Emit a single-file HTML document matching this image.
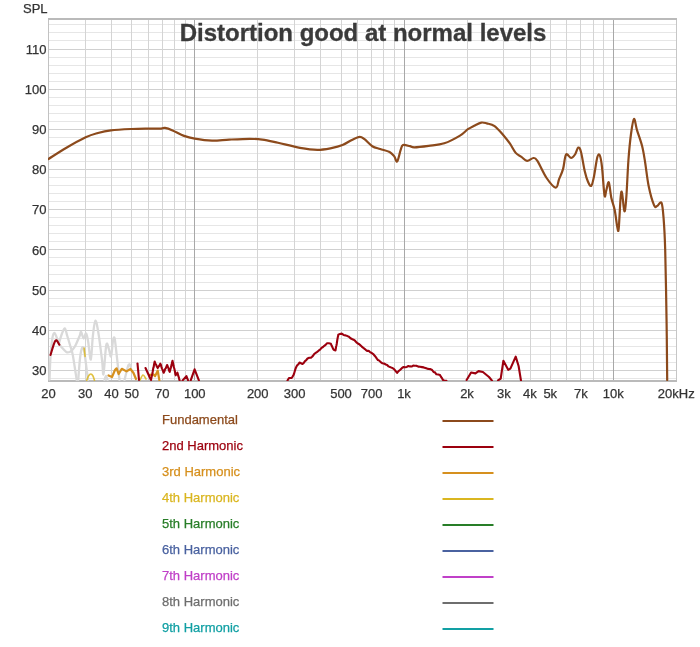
<!DOCTYPE html>
<html><head><meta charset="utf-8"><style>
html,body{margin:0;padding:0;background:#fff;width:700px;height:647px;overflow:hidden;}
svg{display:block;will-change:transform;}
text{font-family:"Liberation Sans", sans-serif;}
</style></head><body>
<svg width="700" height="647" viewBox="0 0 700 647">
<rect width="700" height="647" fill="#fff"/>
<rect x="49" y="24" width="627" height="1" fill="#e6e6e6"/>
<rect x="49" y="32" width="627" height="1" fill="#e6e6e6"/>
<rect x="49" y="40" width="627" height="1" fill="#e6e6e6"/>
<rect x="49" y="49" width="627" height="1" fill="#d0d0d0"/>
<rect x="49" y="57" width="627" height="1" fill="#e6e6e6"/>
<rect x="49" y="65" width="627" height="1" fill="#e6e6e6"/>
<rect x="49" y="73" width="627" height="1" fill="#e6e6e6"/>
<rect x="49" y="81" width="627" height="1" fill="#e6e6e6"/>
<rect x="49" y="89" width="627" height="1" fill="#d0d0d0"/>
<rect x="49" y="97" width="627" height="1" fill="#e6e6e6"/>
<rect x="49" y="105" width="627" height="1" fill="#e6e6e6"/>
<rect x="49" y="113" width="627" height="1" fill="#e6e6e6"/>
<rect x="49" y="121" width="627" height="1" fill="#e6e6e6"/>
<rect x="49" y="129" width="627" height="1" fill="#d0d0d0"/>
<rect x="49" y="137" width="627" height="1" fill="#e6e6e6"/>
<rect x="49" y="145" width="627" height="1" fill="#e6e6e6"/>
<rect x="49" y="153" width="627" height="1" fill="#e6e6e6"/>
<rect x="49" y="161" width="627" height="1" fill="#e6e6e6"/>
<rect x="49" y="169" width="627" height="1" fill="#d0d0d0"/>
<rect x="49" y="177" width="627" height="1" fill="#e6e6e6"/>
<rect x="49" y="185" width="627" height="1" fill="#e6e6e6"/>
<rect x="49" y="193" width="627" height="1" fill="#e6e6e6"/>
<rect x="49" y="201" width="627" height="1" fill="#e6e6e6"/>
<rect x="49" y="209" width="627" height="1" fill="#d0d0d0"/>
<rect x="49" y="217" width="627" height="1" fill="#e6e6e6"/>
<rect x="49" y="225" width="627" height="1" fill="#e6e6e6"/>
<rect x="49" y="233" width="627" height="1" fill="#e6e6e6"/>
<rect x="49" y="241" width="627" height="1" fill="#e6e6e6"/>
<rect x="49" y="249" width="627" height="1" fill="#d0d0d0"/>
<rect x="49" y="257" width="627" height="1" fill="#e6e6e6"/>
<rect x="49" y="265" width="627" height="1" fill="#e6e6e6"/>
<rect x="49" y="274" width="627" height="1" fill="#e6e6e6"/>
<rect x="49" y="282" width="627" height="1" fill="#e6e6e6"/>
<rect x="49" y="290" width="627" height="1" fill="#d0d0d0"/>
<rect x="49" y="298" width="627" height="1" fill="#e6e6e6"/>
<rect x="49" y="306" width="627" height="1" fill="#e6e6e6"/>
<rect x="49" y="314" width="627" height="1" fill="#e6e6e6"/>
<rect x="49" y="322" width="627" height="1" fill="#e6e6e6"/>
<rect x="49" y="330" width="627" height="1" fill="#d0d0d0"/>
<rect x="49" y="338" width="627" height="1" fill="#e6e6e6"/>
<rect x="49" y="346" width="627" height="1" fill="#e6e6e6"/>
<rect x="49" y="354" width="627" height="1" fill="#e6e6e6"/>
<rect x="49" y="362" width="627" height="1" fill="#e6e6e6"/>
<rect x="49" y="370" width="627" height="1" fill="#d0d0d0"/>
<rect x="49" y="378" width="627" height="1" fill="#e6e6e6"/>
<rect x="85" y="20" width="1" height="360" fill="#d4d4d4"/>
<rect x="111" y="20" width="1" height="360" fill="#d4d4d4"/>
<rect x="131" y="20" width="1" height="360" fill="#d4d4d4"/>
<rect x="148" y="20" width="1" height="360" fill="#d4d4d4"/>
<rect x="162" y="20" width="1" height="360" fill="#d4d4d4"/>
<rect x="174" y="20" width="1" height="360" fill="#d4d4d4"/>
<rect x="185" y="20" width="1" height="360" fill="#d4d4d4"/>
<rect x="194" y="20" width="1" height="360" fill="#a8a8a8"/>
<rect x="257" y="20" width="1" height="360" fill="#d4d4d4"/>
<rect x="294" y="20" width="1" height="360" fill="#d4d4d4"/>
<rect x="320" y="20" width="1" height="360" fill="#d4d4d4"/>
<rect x="341" y="20" width="1" height="360" fill="#d4d4d4"/>
<rect x="357" y="20" width="1" height="360" fill="#d4d4d4"/>
<rect x="371" y="20" width="1" height="360" fill="#d4d4d4"/>
<rect x="383" y="20" width="1" height="360" fill="#d4d4d4"/>
<rect x="394" y="20" width="1" height="360" fill="#d4d4d4"/>
<rect x="404" y="20" width="1" height="360" fill="#a8a8a8"/>
<rect x="467" y="20" width="1" height="360" fill="#d4d4d4"/>
<rect x="503" y="20" width="1" height="360" fill="#d4d4d4"/>
<rect x="530" y="20" width="1" height="360" fill="#d4d4d4"/>
<rect x="550" y="20" width="1" height="360" fill="#d4d4d4"/>
<rect x="566" y="20" width="1" height="360" fill="#d4d4d4"/>
<rect x="580" y="20" width="1" height="360" fill="#d4d4d4"/>
<rect x="593" y="20" width="1" height="360" fill="#d4d4d4"/>
<rect x="603" y="20" width="1" height="360" fill="#d4d4d4"/>
<rect x="613" y="20" width="1" height="360" fill="#a8a8a8"/>
<rect x="48" y="18" width="1" height="364" fill="#c2c2c2"/>
<rect x="676" y="18" width="1" height="364" fill="#c6c6c6"/>
<rect x="48" y="18" width="629" height="2" fill="#bababa"/>
<rect x="48" y="380" width="629" height="2" fill="#bababa"/>
<text x="363" y="41" text-anchor="middle" font-family="Liberation Sans" font-weight="bold" font-size="24" fill="#3a3a3a" stroke="#3a3a3a" stroke-width="0.3">Distortion good at normal levels</text>
<defs><clipPath id="pc"><rect x="48" y="18" width="629" height="363"/></clipPath></defs>
<g clip-path="url(#pc)" fill="none" stroke-linejoin="round" stroke-linecap="round">
<path d="M49.50,379.50 C49.67,375.75 50.02,363.92 50.50,357.00 C50.98,350.08 51.75,342.03 52.40,338.00 C53.05,333.97 53.65,332.80 54.40,332.80 C55.15,332.80 56.15,336.22 56.90,338.00 C57.65,339.78 58.08,341.92 58.90,343.50 C59.72,345.08 60.57,346.08 61.80,347.50 C63.03,348.92 64.98,351.25 66.30,352.00 C67.62,352.75 68.63,352.42 69.70,352.00 C70.77,351.58 71.70,350.67 72.70,349.50 C73.70,348.33 74.55,347.25 75.70,345.00 C76.85,342.75 78.70,338.17 79.60,336.00 C80.50,333.83 80.43,331.58 81.10,332.00 C81.77,332.42 82.77,338.25 83.60,338.50 C84.43,338.75 85.33,332.92 86.10,333.50 C86.87,334.08 87.42,337.67 88.20,342.00 C88.98,346.33 90.02,360.55 90.80,359.50 C91.58,358.45 92.13,342.17 92.90,335.70 C93.67,329.23 94.47,321.05 95.40,320.70 C96.33,320.35 97.37,326.80 98.50,333.60 C99.63,340.40 101.37,354.77 102.20,361.50 C103.03,368.23 102.82,376.75 103.50,374.00 C104.18,371.25 105.40,349.15 106.30,345.00 C107.20,340.85 108.12,347.20 108.90,349.10 C109.68,351.00 110.32,357.77 111.00,356.40 C111.68,355.03 112.40,343.92 113.00,340.90 C113.60,337.88 114.00,336.07 114.60,338.30 C115.20,340.53 116.00,349.22 116.60,354.30 C117.20,359.38 117.72,364.52 118.20,368.80 C118.68,373.08 119.28,378.13 119.50,380.00" stroke="#d9d9d9" stroke-width="2.3"/>
<path d="M58.90,343.50 C59.38,341.92 60.82,336.52 61.80,334.00 C62.78,331.48 63.88,328.07 64.80,328.40 C65.72,328.73 66.40,333.12 67.30,336.00 C68.20,338.88 69.30,342.60 70.20,345.70 C71.10,348.80 71.78,349.98 72.70,354.60 C73.62,359.22 75.03,369.17 75.70,373.40 C76.37,377.63 76.53,378.90 76.70,380.00" stroke="#d9d9d9" stroke-width="2.3"/>
<path d="M78.20,380.00 C78.52,376.27 79.45,362.98 80.10,357.60 C80.75,352.22 81.43,348.87 82.10,347.70 C82.77,346.53 83.35,347.05 84.10,350.60 C84.85,354.15 85.95,364.10 86.60,369.00 C87.25,373.90 87.77,378.17 88.00,380.00" stroke="#d9d9d9" stroke-width="2.3"/>
<path d="M104.50,380.00 C104.75,379.33 105.50,376.00 106.00,376.00 C106.50,376.00 107.25,379.33 107.50,380.00" stroke="#d9d9d9" stroke-width="2.3"/>
<path d="M124.50,380.00 C124.83,378.67 125.87,374.42 126.50,372.00 C127.13,369.58 127.75,366.75 128.30,365.50 C128.85,364.25 129.35,364.08 129.80,364.50 C130.25,364.92 130.80,367.42 131.00,368.00" stroke="#d9d9d9" stroke-width="2.3"/>
<path d="M84.1,348.1 L85.1,356.4" stroke="#dab620" stroke-width="1.6" opacity="0.85"/>
<path d="M86.70,380.50 C87.00,379.75 87.82,377.08 88.50,376.00 C89.18,374.92 90.05,374.00 90.80,374.00 C91.55,374.00 92.38,374.92 93.00,376.00 C93.62,377.08 94.25,379.75 94.50,380.50" stroke="#dab620" stroke-width="1.6" opacity="0.85"/>
<path d="M140.00,380.00 C140.50,379.17 142.00,375.17 143.00,375.00 C144.00,374.83 145.50,378.33 146.00,379.00" stroke="#dab620" stroke-width="1.6" opacity="0.85"/>
<path d="M108.50,375.50 L112.00,377.00 L115.10,369.80 L116.60,368.30 L118.70,374.00 L121.80,368.80 L126.50,371.40 L130.50,369.00 L133.50,373.00 L136.00,379.00" stroke="#d6901e" stroke-width="2.2"/>
<path d="M150.00,374.90 L153.40,374.40 L155.10,376.10 L157.70,370.60 L159.40,380.40" stroke="#d6901e" stroke-width="2.2"/>
<path d="M50.50,355.00 C51.32,352.62 53.92,342.42 55.40,340.70 C56.88,338.98 58.73,344.03 59.40,344.70" stroke="#9c000e" stroke-width="2.1"/>
<path d="M137.50,363.50 L139.00,380.00" stroke="#9c000e" stroke-width="2.1"/>
<path d="M145.50,368.00 L150.50,379.00" stroke="#9c000e" stroke-width="2.1"/>
<path d="M151.00,380.00 L151.34,378.04 L151.67,376.70 L152.01,374.84 L152.35,373.42 L152.68,371.77 L153.02,369.49 L153.35,367.76 L153.69,366.99 L154.03,364.68 L154.36,362.98 L154.70,361.60 L155.45,363.75 L156.20,364.77 L156.95,366.77 L157.70,368.00 L158.57,366.54 L159.43,365.29 L160.30,363.70 L160.87,364.82 L161.43,366.85 L162.00,368.60 L162.57,369.73 L163.13,371.47 L163.70,372.70 L164.38,371.35 L165.06,369.14 L165.74,368.36 L166.42,366.64 L167.10,365.00 L167.75,366.51 L168.40,367.93 L169.05,370.58 L169.70,371.90 L170.10,370.27 L170.50,368.94 L170.90,367.52 L171.30,365.74 L171.70,364.36 L172.10,362.18 L172.50,360.70 L172.86,362.65 L173.21,363.88 L173.57,366.05 L173.92,367.61 L174.28,368.37 L174.63,370.03 L174.99,371.74 L175.34,374.19 L175.70,375.30 L177.40,372.70 L177.84,374.17 L178.28,375.92 L178.72,377.10 L179.16,378.87 L179.60,380.40" stroke="#9c000e" stroke-width="2.1"/>
<path d="M182.60,380.40 L186.40,376.10 L188.10,380.40" stroke="#9c000e" stroke-width="2.1"/>
<path d="M190.70,380.40 L194.60,369.30 L198.90,380.40" stroke="#9c000e" stroke-width="2.1"/>
<path d="M287.50,380.50 L289.00,378.00 L291.50,378.00 L292.50,376.82 L293.50,375.00 L294.12,373.48 L294.75,371.23 L295.38,369.11 L296.00,367.50 L297.17,365.28 L298.33,364.35 L299.50,362.50 L301.00,363.22 L302.50,364.00 L303.75,362.91 L305.00,361.11 L306.25,360.17 L307.50,358.50 L309.25,357.80 L311.00,357.60 L312.10,356.73 L313.20,355.45 L314.30,354.00 L315.73,352.81 L317.17,351.84 L318.60,350.70 L320.07,349.67 L321.53,347.90 L323.00,347.00 L324.30,345.83 L325.60,344.87 L326.90,343.30 L328.90,343.29 L330.90,343.80 L331.60,345.61 L332.30,346.95 L333.00,348.60 L333.70,349.70 L335.50,350.40 L335.81,348.47 L336.12,346.46 L336.43,345.50 L336.74,343.76 L337.06,341.62 L337.37,339.49 L337.68,337.86 L337.99,336.59 L338.30,334.70 L340.00,333.92 L341.70,333.60 L343.60,334.93 L345.50,335.36 L347.40,336.10 L348.93,336.74 L350.47,338.20 L352.00,339.00 L353.50,339.70 L355.00,340.70 L356.43,342.38 L357.87,343.55 L359.30,344.30 L360.55,345.39 L361.80,346.61 L363.05,347.74 L364.30,348.60 L365.73,349.81 L367.15,350.87 L368.57,350.71 L370.00,352.10 L371.80,353.05 L373.60,354.30 L374.68,355.84 L375.75,356.93 L376.82,358.67 L377.90,360.00 L379.30,360.60 L380.70,362.10 L382.50,363.27 L384.30,363.60 L385.73,364.50 L387.15,364.93 L388.57,366.40 L390.00,367.10 L391.43,367.63 L392.87,368.23 L394.30,369.30 L395.70,371.08 L397.10,372.90 L398.55,371.05 L400.00,370.00 L401.80,368.18 L403.60,367.00 L405.20,367.25 L406.80,366.92 L408.40,366.01 L410.00,366.40 L411.60,366.53 L413.20,365.52 L414.80,365.69 L416.40,365.70 L418.27,366.61 L420.13,366.77 L422.00,367.10 L423.70,367.39 L425.40,367.97 L427.10,368.60 L428.77,368.94 L430.43,369.12 L432.10,370.00 L433.53,371.98 L434.97,372.38 L436.40,374.30 L438.20,374.57 L440.00,375.00 L441.00,376.94 L442.00,378.22 L443.00,380.00 L444.70,380.88 L446.40,380.70" stroke="#9c000e" stroke-width="2.1"/>
<path d="M466.60,380.00 L471.10,372.50 L475.40,373.40 L478.60,371.10 L482.90,372.00 L489.00,377.00 L492.00,380.60" stroke="#9c000e" stroke-width="2.1"/>
<path d="M498.00,380.40 L500.70,378.60 L503.40,360.70 L508.20,369.80 L510.40,368.60 L515.70,356.60 L518.60,366.00 L521.00,380.60" stroke="#9c000e" stroke-width="2.1"/>
<path d="M48.50,159.00 C51.42,157.17 59.80,151.62 66.00,148.00 C72.20,144.38 80.37,139.80 85.70,137.30 C91.03,134.80 93.80,134.15 98.00,133.00 C102.20,131.85 105.33,131.07 110.90,130.40 C116.47,129.73 125.32,129.30 131.40,129.00 C137.48,128.70 142.47,128.67 147.40,128.60 C152.33,128.53 158.07,128.72 161.00,128.60 C163.93,128.48 163.07,127.60 165.00,127.90 C166.93,128.20 169.43,129.07 172.60,130.40 C175.77,131.73 180.32,134.52 184.00,135.90 C187.68,137.28 190.03,137.90 194.70,138.70 C199.37,139.50 206.23,140.55 212.00,140.70 C217.77,140.85 223.02,139.92 229.30,139.60 C235.58,139.28 244.20,138.80 249.70,138.80 C255.20,138.80 257.58,138.93 262.30,139.60 C267.02,140.27 271.72,141.43 278.00,142.80 C284.28,144.17 293.45,146.63 300.00,147.80 C306.55,148.97 312.07,149.75 317.30,149.80 C322.53,149.85 327.20,148.88 331.40,148.10 C335.60,147.32 339.08,146.47 342.50,145.10 C345.92,143.73 349.03,141.28 351.90,139.90 C354.77,138.52 357.60,136.92 359.70,136.80 C361.80,136.68 362.40,137.63 364.50,139.20 C366.60,140.77 369.68,144.57 372.30,146.20 C374.92,147.83 377.32,148.03 380.20,149.00 C383.08,149.97 387.25,150.77 389.60,152.00 C391.95,153.23 393.03,154.82 394.30,156.40 C395.57,157.98 396.15,162.53 397.20,161.50 C398.25,160.47 399.63,152.95 400.60,150.20 C401.57,147.45 401.43,145.67 403.00,145.00 C404.57,144.33 408.10,145.82 410.00,146.20 C411.90,146.58 411.30,147.37 414.40,147.30 C417.50,147.23 423.62,146.47 428.60,145.80 C433.58,145.13 439.07,145.00 444.30,143.30 C449.53,141.60 456.07,137.95 460.00,135.60 C463.93,133.25 465.53,130.85 467.90,129.20 C470.27,127.55 471.97,126.80 474.20,125.70 C476.43,124.60 479.20,122.98 481.30,122.60 C483.40,122.22 484.58,122.80 486.80,123.40 C489.02,124.00 491.73,124.12 494.60,126.20 C497.47,128.28 501.43,132.98 504.00,135.90 C506.57,138.82 508.05,140.87 510.00,143.70 C511.95,146.53 513.80,150.70 515.70,152.90 C517.60,155.10 519.50,155.57 521.40,156.90 C523.30,158.23 525.10,160.72 527.10,160.90 C529.10,161.08 531.68,158.00 533.40,158.00 C535.12,158.00 535.20,157.57 537.40,160.90 C539.60,164.23 543.55,173.53 546.60,178.00 C549.65,182.47 553.62,187.52 555.70,187.70 C557.78,187.88 557.87,182.23 559.10,179.10 C560.33,175.97 561.95,172.98 563.10,168.90 C564.25,164.82 564.67,156.42 566.00,154.60 C567.33,152.78 569.60,158.02 571.10,158.00 C572.60,157.98 573.82,156.23 575.00,154.50 C576.18,152.77 577.20,148.02 578.20,147.60 C579.20,147.18 579.92,148.12 581.00,152.00 C582.08,155.88 583.53,165.95 584.70,170.90 C585.87,175.85 586.90,179.22 588.00,181.70 C589.10,184.18 590.30,186.68 591.30,185.80 C592.30,184.92 593.00,181.17 594.00,176.40 C595.00,171.63 596.33,160.70 597.30,157.20 C598.27,153.70 599.02,153.77 599.80,155.40 C600.58,157.03 601.22,160.35 602.00,167.00 C602.78,173.65 603.78,191.40 604.50,195.30 C605.22,199.20 605.58,192.57 606.30,190.40 C607.02,188.23 607.97,181.08 608.80,182.30 C609.63,183.52 610.32,193.08 611.30,197.70 C612.28,202.32 613.72,205.22 614.70,210.00 C615.68,214.78 616.53,223.28 617.20,226.40 C617.87,229.52 618.12,233.68 618.70,228.70 C619.28,223.72 620.13,202.42 620.70,196.50 C621.27,190.58 621.48,190.73 622.10,193.20 C622.72,195.67 623.70,210.55 624.40,211.30 C625.10,212.05 625.63,206.17 626.30,197.70 C626.97,189.23 627.62,171.12 628.40,160.50 C629.18,149.88 630.07,140.92 631.00,134.00 C631.93,127.08 633.00,119.65 634.00,119.00 C635.00,118.35 635.65,125.58 637.00,130.10 C638.35,134.62 640.75,140.75 642.10,146.10 C643.45,151.45 644.00,155.50 645.10,162.20 C646.20,168.90 647.20,179.10 648.70,186.30 C650.20,193.50 652.70,202.12 654.10,205.40 C655.50,208.68 655.87,206.43 657.10,206.00 C658.33,205.57 660.42,200.73 661.50,202.80 C662.58,204.87 662.98,210.53 663.60,218.40 C664.22,226.27 664.70,232.47 665.20,250.00 C665.70,267.53 666.27,301.93 666.60,323.60 C666.93,345.27 667.10,370.60 667.20,380.00" stroke="#8c4a1c" stroke-width="2.2"/>
</g>
<g font-family="Liberation Sans" font-size="13" fill="#333" stroke="#333" stroke-width="0.25">
<text x="23"  y="13">SPL</text>
<text x="46.5" y="374.9" text-anchor="end">30</text>
<text x="46.5" y="334.8" text-anchor="end">40</text>
<text x="46.5" y="294.7" text-anchor="end">50</text>
<text x="46.5" y="254.5" text-anchor="end">60</text>
<text x="46.5" y="214.4" text-anchor="end">70</text>
<text x="46.5" y="174.3" text-anchor="end">80</text>
<text x="46.5" y="134.2" text-anchor="end">90</text>
<text x="46.5" y="94.0" text-anchor="end">100</text>
<text x="46.5" y="53.9" text-anchor="end">110</text>
<text x="48.50" y="398" text-anchor="middle">20</text>
<text x="85.35" y="398" text-anchor="middle">30</text>
<text x="111.49" y="398" text-anchor="middle">40</text>
<text x="131.77" y="398" text-anchor="middle">50</text>
<text x="162.35" y="398" text-anchor="middle">70</text>
<text x="194.76" y="398" text-anchor="middle">100</text>
<text x="257.75" y="398" text-anchor="middle">200</text>
<text x="294.60" y="398" text-anchor="middle">300</text>
<text x="341.02" y="398" text-anchor="middle">500</text>
<text x="371.60" y="398" text-anchor="middle">700</text>
<text x="404.01" y="398" text-anchor="middle">1k</text>
<text x="467.00" y="398" text-anchor="middle">2k</text>
<text x="503.85" y="398" text-anchor="middle">3k</text>
<text x="529.99" y="398" text-anchor="middle">4k</text>
<text x="550.27" y="398" text-anchor="middle">5k</text>
<text x="580.85" y="398" text-anchor="middle">7k</text>
<text x="613.26" y="398" text-anchor="middle">10k</text>
<text x="676.25" y="398" text-anchor="middle">20kHz</text>
</g>
<g font-family="Liberation Sans" font-size="13">
<text x="162" y="424.3" fill="#8c4a1c" stroke="#8c4a1c" stroke-width="0.25">Fundamental</text>
<line x1="442.5" y1="421.0" x2="493.5" y2="421.0" stroke="#8c4a1c" stroke-width="2"/>
<text x="162" y="450.3" fill="#9c000e" stroke="#9c000e" stroke-width="0.25">2nd Harmonic</text>
<line x1="442.5" y1="447.0" x2="493.5" y2="447.0" stroke="#9c000e" stroke-width="2"/>
<text x="162" y="476.3" fill="#d6901e" stroke="#d6901e" stroke-width="0.25">3rd Harmonic</text>
<line x1="442.5" y1="473.0" x2="493.5" y2="473.0" stroke="#d6901e" stroke-width="2"/>
<text x="162" y="502.3" fill="#dab620" stroke="#dab620" stroke-width="0.25">4th Harmonic</text>
<line x1="442.5" y1="499.0" x2="493.5" y2="499.0" stroke="#dab620" stroke-width="2"/>
<text x="162" y="528.3" fill="#287e28" stroke="#287e28" stroke-width="0.25">5th Harmonic</text>
<line x1="442.5" y1="525.0" x2="493.5" y2="525.0" stroke="#287e28" stroke-width="2"/>
<text x="162" y="554.3" fill="#4a62a0" stroke="#4a62a0" stroke-width="0.25">6th Harmonic</text>
<line x1="442.5" y1="551.0" x2="493.5" y2="551.0" stroke="#4a62a0" stroke-width="2"/>
<text x="162" y="580.3" fill="#c040c8" stroke="#c040c8" stroke-width="0.25">7th Harmonic</text>
<line x1="442.5" y1="577.0" x2="493.5" y2="577.0" stroke="#c040c8" stroke-width="2"/>
<text x="162" y="606.3" fill="#6e6e6e" stroke="#6e6e6e" stroke-width="0.25">8th Harmonic</text>
<line x1="442.5" y1="603.0" x2="493.5" y2="603.0" stroke="#6e6e6e" stroke-width="2"/>
<text x="162" y="632.3" fill="#12a0a4" stroke="#12a0a4" stroke-width="0.25">9th Harmonic</text>
<line x1="442.5" y1="629.0" x2="493.5" y2="629.0" stroke="#12a0a4" stroke-width="2"/>
</g>
</svg>
</body></html>
